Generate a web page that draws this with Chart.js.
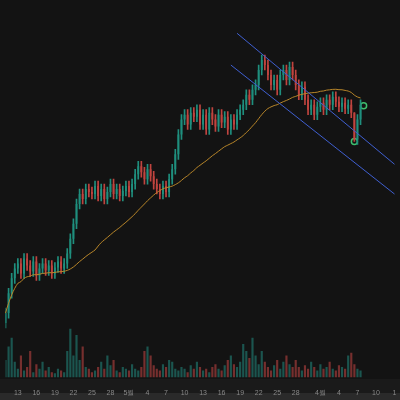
<!DOCTYPE html><html><head><script src="https://cdn.jsdelivr.net/npm/chart.js@4"></script>
<style>html,body{margin:0;background:#131313}#w{width:400px;height:400px;position:relative}</style></head><body><div id="w"><canvas id="c"></canvas></div>
<script>
const closes=[90,110,125,135,
140,130,145,138,132,142,128,135,140,133,138,130,136,142,135,140,
150,165,180,200,210,205,215,212,
210,218,208,215,205,212,220,210,215,208,213,218,212,
220,230,238,232,225,235,228,
220,215,210,218,212,225,235,
250,270,285,290,280,292,
288,295,280,290,275,292,285,278,290,282,288,275,285,280,290,295,
300,310,305,315,320,335,345,340,
330,320,325,315,330,335,325,338,330,320,310,318,
305,295,300,290,298,302,295,305,300,308,303,298,302,296,300,292,
265,285,300];
const volumes=[20,35,45,18,10,25,8,12,30,6,15,10,18,8,12,6,5,10,8,6,30,55,25,48,20,35,12,10,6,8,12,18,10,25,14,20,8,6,12,10,8,15,10,8,12,30,35,25,14,10,8,15,12,20,18,10,8,12,10,6,14,10,18,12,8,10,6,12,15,10,8,14,20,25,15,12,18,38,30,22,45,25,15,30,18,12,8,14,20,10,18,25,15,12,20,12,8,14,10,18,12,8,15,10,12,18,10,8,14,12,10,25,28,15,10,8];
const dayLabels={4:'13',10:'16',16:'19',22:'22',28:'25',34:'28',40:'5월',46:'4',52:'7',58:'10',64:'13',70:'16',76:'19',82:'22',88:'25',94:'28',102:'4월',108:'4',114:'7',120:'10',126:'1'};
const N=127;
const labels=[...Array(N).keys()];
const opens=closes.map((c,i)=>i?closes[i-1]:c-10);
const body=closes.map((c,i)=>[opens[i],c]);
const wick=closes.map((c,i)=>[Math.min(c,opens[i])-5,Math.max(c,opens[i])+5]);
wick[113]=[263,292];
const up=closes.map((c,i)=>c>=opens[i]);
const col=i=>up[i]?'#1f8f7e':'#c0443f';
const ma=closes.map((c,i)=>{const s=closes.slice(Math.max(0,i-29),i+1);return s.reduce((a,b)=>a+b,0)/s.length;});
const upper=labels.map(i=>i===75?372:i===126?240:null);
const lower=labels.map(i=>i===73?340:i===126?210:null);
const marks=labels.map(i=>i===116?299:i===113?263:null);
const bg={id:'bg',beforeDraw(ch){const c=ch.ctx;c.save();c.fillStyle='#131313';c.fillRect(0,0,400,400);c.fillStyle='#1a1a1a';c.fillRect(0,379,400,14);c.fillStyle='#2a2a2a';c.fillRect(0,393,400,7);c.restore();}};
new Chart(document.getElementById('c'),{data:{labels,datasets:[
{type:'line',data:upper,borderColor:'#3f5fd0',borderWidth:1,pointRadius:0,spanGaps:true,yAxisID:'y'},
{type:'line',data:lower,borderColor:'#3f5fd0',borderWidth:1,pointRadius:0,spanGaps:true,yAxisID:'y'},
{type:'line',data:ma,borderColor:'#b8862a',borderWidth:1,pointRadius:0,tension:0.3,yAxisID:'y'},
{type:'bar',data:wick,backgroundColor:closes.map((c,i)=>col(i)),barThickness:1,yAxisID:'y'},
{type:'bar',data:body,backgroundColor:closes.map((c,i)=>col(i)),barPercentage:0.6,categoryPercentage:1,yAxisID:'y'},
{type:'bar',data:volumes,backgroundColor:closes.map((c,i)=>up[i]?'rgba(38,166,154,0.45)':'rgba(239,83,80,0.45)'),barPercentage:0.7,categoryPercentage:1,yAxisID:'v'},
{type:'line',data:marks,showLine:false,pointStyle:'circle',pointRadius:3,pointBorderColor:'#3fbf6f',pointBackgroundColor:'#131313',pointBorderWidth:1.5,yAxisID:'y'}
]},plugins:[bg],options:{responsive:true,maintainAspectRatio:false,animation:false,layout:{padding:0},
plugins:{legend:{display:false},tooltip:{enabled:false}},
datasets:{bar:{grouped:false}},
scales:{x:{offset:false,grid:{display:false},border:{display:false},ticks:{autoSkip:false,maxRotation:0,color:'#888',font:{size:7},callback:(v)=>dayLabels[v]||''}},
y:{min:25,max:400,display:false},v:{min:0,max:420,display:false}}}});
</script></body></html>
